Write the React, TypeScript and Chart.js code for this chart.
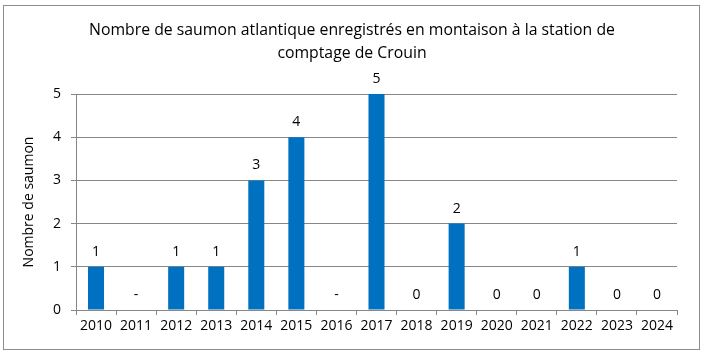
import React, { useEffect, useRef } from 'react';
import { Chart, registerables } from 'chart.js';

Chart.register(...registerables);

const years = ['2010', '2011', '2012', '2013', '2014', '2015', '2016', '2017', '2018', '2019', '2020', '2021', '2022', '2023', '2024'];
const counts: (number | null)[] = [1, null, 1, 1, 3, 4, null, 5, 0, 2, 0, 0, 1, 0, 0];
const titleLines = ['Nombre de saumon atlantique enregistrés en montaison à la station de', 'comptage de Crouin'];
const yAxisTitle = 'Nombre de saumon';

const FONT = '"Open Sans", "Noto Sans", sans-serif';
const GRID = '#868686';

const framePlugin = {
  id: 'frame',
  beforeDraw(chart: any) {
    const ctx = chart.ctx;
    ctx.save();
    ctx.fillStyle = '#ffffff';
    ctx.fillRect(0, 0, chart.width, chart.height);
    ctx.strokeStyle = '#8c8c8c';
    ctx.lineWidth = 1;
    ctx.strokeRect(3.5, 5.5, 696, 344);
    ctx.font = `15.8px ${FONT}`;
    ctx.fillStyle = '#000';
    ctx.textAlign = 'center';
    ctx.textBaseline = 'middle';
    titleLines.forEach((line, i) => ctx.fillText(line, 352, 30 + i * 23));
    ctx.restore();
  },
};

const labelPlugin = {
  id: 'barLabels',
  afterDatasetsDraw(chart: any) {
    const ctx = chart.ctx;
    const meta = chart.getDatasetMeta(0);
    const yScale = chart.scales.y;
    ctx.save();
    ctx.font = `14px ${FONT}`;
    ctx.fillStyle = '#000';
    ctx.textAlign = 'center';
    ctx.textBaseline = 'alphabetic';
    meta.data.forEach((el: any, i: number) => {
      const v = counts[i];
      const text = v === null ? '-' : String(v);
      const top = v === null ? yScale.getPixelForValue(0) : el.y;
      ctx.fillText(text, el.x, top - 11);
    });
    ctx.restore();
  },
};

export default function App() {
  const ref = useRef<HTMLCanvasElement>(null);
  useEffect(() => {
    document.body.style.margin = '0';
    const chart = new Chart(ref.current!, {
      type: 'bar',
      data: {
        labels: years,
        datasets: [
          {
            data: counts as any,
            backgroundColor: '#0070C0',
            borderWidth: 0,
            barPercentage: 0.4,
            categoryPercentage: 1,
          },
        ],
      },
      options: {
        animation: false,
        responsive: false,
        maintainAspectRatio: false,
        layout: { padding: { left: 0, right: 28, top: 94, bottom: 0 } },
        plugins: {
          legend: { display: false },
          tooltip: { enabled: false },
          title: { display: false },
        },
        scales: {
          x: {
            afterFit(scale: any) {
              scale.height = 46;
            },
            grid: { drawOnChartArea: false, drawTicks: true, tickLength: 5, color: GRID, offset: true },
            border: { display: true, color: GRID },
            ticks: { color: '#000', font: { family: FONT, size: 14 }, padding: 3, maxRotation: 0, autoSkip: false },
          },
          y: {
            min: 0,
            max: 5,
            afterFit(scale: any) {
              scale.width = 76;
            },
            grid: { color: GRID, tickLength: 5, drawTicks: true },
            border: { display: true, color: GRID },
            ticks: { stepSize: 1, color: '#000', font: { family: FONT, size: 14 }, padding: 10 },
            title: {
              display: true,
              text: yAxisTitle,
              color: '#000',
              font: { family: FONT, size: 14 },
              padding: { top: 21, bottom: 0 },
            },
          },
        },
      },
      plugins: [framePlugin, labelPlugin],
    });
    return () => chart.destroy();
  }, []);
  return <canvas ref={ref} width={705} height={356} style={{ display: 'block' }} />;
}
